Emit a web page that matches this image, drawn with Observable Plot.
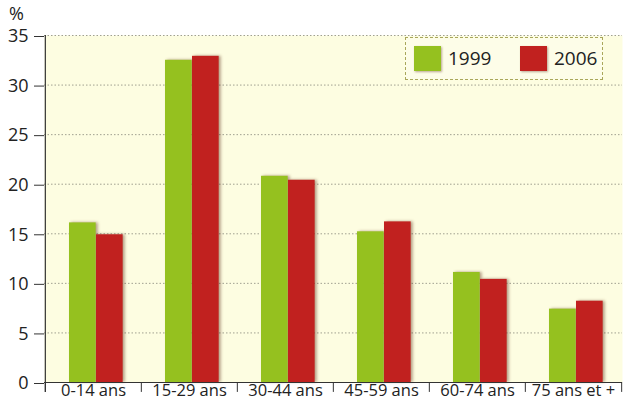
<!DOCTYPE html>
<html><head><meta charset="utf-8">
<script src="https://cdn.jsdelivr.net/npm/d3@7"></script>
<script src="https://cdn.jsdelivr.net/npm/@observablehq/plot@0.6"></script>
<style>
body{margin:0;background:#fff;font-family:"Open Sans",sans-serif;}
#wrap{position:relative;width:625px;height:403px;}
#pct{position:absolute;left:9px;top:4px;font-size:18px;color:#222;line-height:18px;}
#legend{position:absolute;left:405px;top:37px;width:196px;height:41px;border:1px dashed #a9a75a;background:#fdfde8;}
.sw{position:absolute;top:8px;width:27px;height:25px;}
.lt{position:absolute;top:7px;font-size:19px;color:#222;line-height:26px;}
.barshadow rect{filter:drop-shadow(2px 0px 1.5px rgba(90,40,20,0.45));}
svg g[aria-label="y-axis tick label"] text{font-size:18px;}
svg g[aria-label="x-axis tick label"] text{font-size:16.5px;}
</style></head>
<body><div id="wrap"><div id="pct">%</div><div id="legend"></div></div>
<script>
const categories = ["0-14 ans","15-29 ans","30-44 ans","45-59 ans","60-74 ans","75 ans et +"];
const values1999 = [16.1, 32.5, 20.8, 15.2, 11.1, 7.4];
const values2006 = [14.9, 32.9, 20.4, 16.2, 10.4, 8.2];
const years = ["1999","2006"];
const colors = ["#95c11f","#c1211f"];
const yTicks = [0,5,10,15,20,25,30,35];

const W = 625, H = 403, mL = 44, mR = 3, mT = 35, mB = 21;
const step = (W - mL - mR) / categories.length;
const barW = 27, gap0 = 24;

const d1999 = categories.map((c,i)=>({cat:c, v:values1999[i]}));
const d2006 = categories.map((c,i)=>({cat:c, v:values2006[i]}));
const bounds = categories.map(c=>({cat:c, dx:-step/2})).concat([{cat:categories[categories.length-1], dx:step/2}]);

const chart = Plot.plot({
  width: W, height: H,
  marginLeft: mL, marginRight: mR, marginTop: mT, marginBottom: mB,
  style: {fontFamily: "'Open Sans', sans-serif", background: "transparent", color:"#222"},
  x: {domain: categories, padding: 0, label: null},
  y: {domain: [0,35], label: null},
  marks: [
    Plot.frame({fill: "#fdfde1", stroke: null}),
    Plot.ruleY(yTicks.filter(t=>t>0), {stroke:"#a0a090", strokeDasharray:"1.5,2", strokeWidth:1}),
    Plot.barY(d1999, {x:"cat", y:"v", fill: colors[0], insetLeft: gap0, insetRight: step-gap0-barW, className:"barshadow"}),
    Plot.barY(d2006, {x:"cat", y:"v", fill: colors[1], insetLeft: gap0+barW, insetRight: step-gap0-2*barW, className:"barshadow"}),
    Plot.ruleY([0], {stroke:"#333", strokeWidth:1.2}),
    Plot.ruleX(bounds.slice(0,1), {x:"cat", dx: bounds[0].dx, y1:-1, y2:35, stroke:"#333", strokeWidth:1.2}),
    ...bounds.map(b => Plot.ruleX([b], {x:"cat", dx: b.dx, y1:-1, y2:0, stroke:"#333", strokeWidth:1})),
    Plot.axisY({ticks: yTicks, tickSize: 10, tickPadding: 6, dy: 1, fontSize: 18, label: null, stroke:"#333"}),
    Plot.axisX({tickSize: 0, tickPadding: 2, fontSize: 16.5, label: null})
  ]
});
document.getElementById("wrap").prepend(chart);

const leg = document.getElementById("legend");
const swX = [8, 114], txX = [42, 148];
years.forEach((y,i)=>{
  const s = document.createElement("div"); s.className="sw"; s.style.left=swX[i]+"px"; s.style.background=colors[i];
  s.style.boxShadow = "1px 1px 2px rgba(90,40,20,0.4)";
  const t = document.createElement("div"); t.className="lt"; t.style.left=txX[i]+"px"; t.textContent=y;
  leg.append(s,t);
});
</script></body></html>
